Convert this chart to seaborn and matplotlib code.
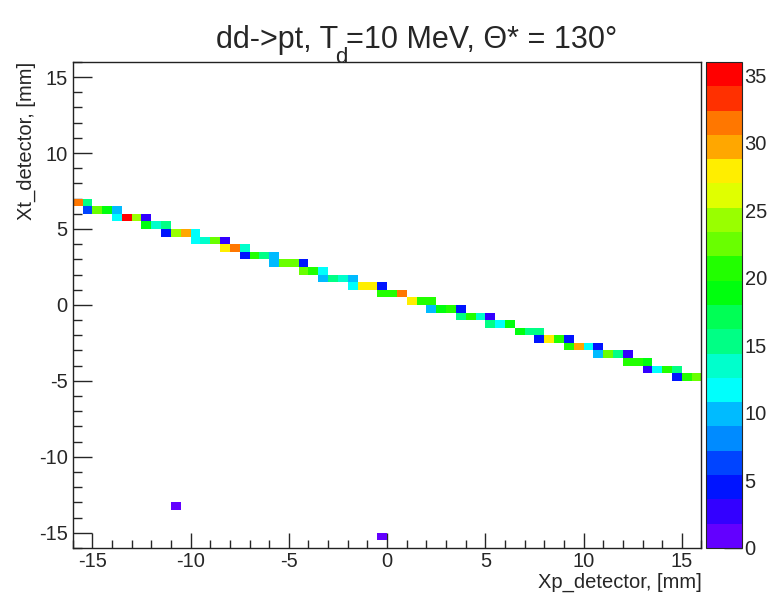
import colorsys
import numpy as np
import pandas as pd
import matplotlib
matplotlib.use("Agg")
import matplotlib.pyplot as plt
from matplotlib.colors import ListedColormap
from matplotlib.ticker import MultipleLocator
import seaborn as sns

# === DATA (0.5 mm bins) ===
# each row: Xt bin centre, Xp centre of its first filled bin, contents going right
ROW_XT = [6.75, 6.25, 5.75, 5.25, 4.75, 4.25, 3.75, 3.25, 2.75, 2.25, 1.75, 1.25,
          0.75, 0.25, -0.25, -0.75, -1.25, -1.75, -2.25, -2.75, -3.25, -3.75,
          -4.25, -4.75, -13.25, -15.25]
ROW_XP0 = [-15.75, -15.25, -13.75, -12.25, -11.25, -9.75, -8.25, -7.25, -5.75,
           -4.25, -3.25, -1.75, -0.25, 1.25, 2.25, 3.75, 5.25, 6.75, 7.75, 9.25,
           10.75, 12.25, 13.25, 14.75, -10.75, -0.25]
ROW_COUNTS = [
    [31, 15],
    [6, 23, 19, 10],
    [12, 35, 25, 3],
    [19, 14, 15],
    [5, 25, 30, 12],
    [12, 13, 22, 3],
    [27, 31, 13],
    [5, 20, 15, 10],
    [9, 23, 23, 5],
    [23, 20, 12],
    [9, 15, 14, 10],
    [12, 28, 28, 5],
    [20, 20, 31],
    [28, 20, 20],
    [9, 19, 20, 5],
    [15, 20, 13, 3],
    [15, 12, 19],
    [19, 16, 16],
    [5, 28, 20, 5],
    [20, 30, 12, 5],
    [10, 23, 15, 3],
    [20, 20, 19],
    [2, 12, 20, 16],
    [5, 20, 23],
    [1],
    [1],
]
Z_MAX = 36
N_LEVELS = 20

# unpack rows into one table of filled bins
xp, xt, n = [], [], []
for y0, x0, counts in zip(ROW_XT, ROW_XP0, ROW_COUNTS):
    for k, c in enumerate(counts):
        xp.append(x0 + 0.5 * k)
        xt.append(y0)
        n.append(c)
df = pd.DataFrame({"xp": xp, "xt": xt, "n": n})

# ROOT "pretty" palette (hls, 50 colours) sampled at 20 contours
hues = [280 - (int((k + 0.99) * 50 / N_LEVELS) + 1) * 5.6 for k in range(N_LEVELS)]
cmap = ListedColormap([colorsys.hls_to_rgb(h / 360, 0.5, 1.0) for h in hues])

sns.set_style("ticks")
plt.rcParams['font.family'] = ['Liberation Sans', 'DejaVu Sans']
plt.rcParams['axes.unicode_minus'] = False

fig = plt.figure(figsize=(7.82, 5.93), dpi=100)
ax = fig.add_axes([0.093, 0.076, 0.804, 0.8196])
cax = fig.add_axes([0.9028, 0.076, 0.0457, 0.8196])

sns.histplot(data=df, x="xp", y="xt", weights="n", binwidth=0.5,
             binrange=((-16, 16), (-16, 16)), cmap=cmap, vmin=0, vmax=Z_MAX,
             cbar=True, cbar_ax=cax, ax=ax)

ax.set_xlim(-16, 16)
ax.set_ylim(-16, 16)
ax.xaxis.set_major_locator(MultipleLocator(5))
ax.xaxis.set_minor_locator(MultipleLocator(1))
ax.yaxis.set_major_locator(MultipleLocator(5))
ax.yaxis.set_minor_locator(MultipleLocator(1))
ax.tick_params(axis='x', which='major', direction='in', length=11, width=1, labelsize=14.5, pad=3)
ax.tick_params(axis='x', which='minor', direction='in', length=5.5, width=1)
ax.tick_params(axis='y', which='major', direction='in', length=14, width=1, labelsize=14.5, pad=3.5)
ax.tick_params(axis='y', which='minor', direction='in', length=6.5, width=1)
for s in ax.spines.values():
    s.set_visible(True)
    s.set_linewidth(1.0)
    s.set_color('#222222')

ax.set_xlabel("Xp_detector, [mm]", fontsize=14.5, loc='right')
ax.set_ylabel("Xt_detector, [mm]", fontsize=14.5, loc='top')
ax.xaxis.set_label_coords(1.0, -0.051)
ax.yaxis.set_label_coords(-0.058, 1.0)

cax.set_ylim(0, Z_MAX)
cax.yaxis.set_ticks(range(0, 36, 5))
cax.minorticks_off()
cax.tick_params(axis='y', direction='in', length=13, width=1, labelsize=14.5, pad=2,
                right=True, left=False, labelright=True, labelleft=False)
cax.spines['outline'].set_linewidth(0.8)

# title in pieces so the subscript d can sit low, as ROOT draws it
fig.text(0.4325, 0.919, "dd->pt, T", fontsize=22, ha='right', va='baseline')
fig.text(0.4285, 0.893, "d", fontsize=16, ha='left', va='baseline')
fig.text(0.4425, 0.919, "=10 MeV, Θ* = 130°", fontsize=22, ha='left', va='baseline')

plt.savefig("out.png", dpi=100)
